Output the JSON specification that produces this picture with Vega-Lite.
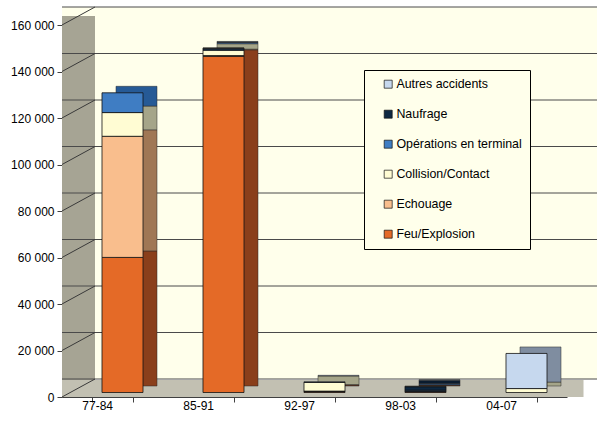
{
  "$schema": "https://vega.github.io/schema/vega-lite/v6.json",
  "width": 505,
  "height": 372,
  "autosize": {"type": "none"},
  "padding": {"left": 62, "top": 25, "right": 30, "bottom": 26},
  "background": "white",
  "config": {"view": {"stroke": null}, "font": "Liberation Sans"},
  "datasets": {
    "bars": [
      {"period": "77-84", "type": "Feu/Explosion", "rank": 1, "value": 58100},
      {"period": "77-84", "type": "Echouage", "rank": 2, "value": 52100},
      {"period": "77-84", "type": "Collision/Contact", "rank": 3, "value": 10200},
      {"period": "77-84", "type": "Opérations en terminal", "rank": 4, "value": 8500},
      {"period": "85-91", "type": "Feu/Explosion", "rank": 1, "value": 144600},
      {"period": "85-91", "type": "Echouage", "rank": 2, "value": 300},
      {"period": "85-91", "type": "Collision/Contact", "rank": 3, "value": 2300},
      {"period": "85-91", "type": "Opérations en terminal", "rank": 4, "value": 500},
      {"period": "85-91", "type": "Naufrage", "rank": 5, "value": 300},
      {"period": "85-91", "type": "Autres accidents", "rank": 6, "value": 200},
      {"period": "92-97", "type": "Feu/Explosion", "rank": 1, "value": 400},
      {"period": "92-97", "type": "Echouage", "rank": 2, "value": 200},
      {"period": "92-97", "type": "Collision/Contact", "rank": 3, "value": 3700},
      {"period": "92-97", "type": "Autres accidents", "rank": 6, "value": 300},
      {"period": "98-03", "type": "Feu/Explosion", "rank": 1, "value": 400},
      {"period": "98-03", "type": "Echouage", "rank": 2, "value": 100},
      {"period": "98-03", "type": "Opérations en terminal", "rank": 4, "value": 500},
      {"period": "98-03", "type": "Naufrage", "rank": 5, "value": 1500},
      {"period": "98-03", "type": "Autres accidents", "rank": 6, "value": 200},
      {"period": "04-07", "type": "Collision/Contact", "rank": 3, "value": 1700},
      {"period": "04-07", "type": "Autres accidents", "rank": 6, "value": 15100}
    ],
    "grid": [
      {"v": 0}, {"v": 20000}, {"v": 40000}, {"v": 60000}, {"v": 80000},
      {"v": 100000}, {"v": 120000}, {"v": 140000}, {"v": 160000}
    ],
    "one": [{"k": "a"}]
  },
  "resolve": {"scale": {"color": "independent"}},
  "layer": [
    {
      "data": {"name": "one"},
      "mark": {"type": "rule", "stroke": "#FFFFEB", "strokeWidth": 372, "xOffset": 33, "yOffset": -18},
      "encoding": {
        "y": {"datum": 80000}
      }
    },
    {
      "data": {"name": "one"},
      "mark": {"type": "rule", "stroke": "#A6A494", "strokeWidth": 33, "xOffset": -13.5, "yOffset": -9},
      "encoding": {
        "x": {"datum": "77-84", "bandPosition": 0}
      }
    },
    {
      "data": {"name": "one"},
      "mark": {"type": "rule", "stroke": "#C2C0B2", "strokeWidth": 17, "xOffset": 16.5, "yOffset": -8.5},
      "encoding": {
        "y": {"datum": 0}
      }
    },
    {
      "data": {"name": "grid"},
      "mark": {"type": "rule", "stroke": "#4A4A4A", "strokeWidth": 1, "xOffset": 33, "yOffset": -18},
      "encoding": {
        "y": {"field": "v", "type": "quantitative"}
      }
    },
    {
      "data": {"name": "grid"},
      "mark": {"type": "rule", "stroke": "#3A3A3A", "strokeWidth": 1, "xOffset": -30, "x2Offset": -17.5, "y2Offset": -18},
      "encoding": {
        "x": {"datum": "77-84", "bandPosition": 0},
        "x2": {"datum": "77-84"},
        "y": {"field": "v", "type": "quantitative"},
        "y2": {"field": "v"}
      }
    },
    {
      "data": {"name": "bars"},
      "mark": {"type": "bar", "xOffset": 24, "yOffset": -11, "stroke": "#2A2A2A", "strokeWidth": 0.5},
      "encoding": {
        "x": {"field": "period", "type": "nominal", "sort": ["77-84", "85-91", "92-97", "98-03", "04-07"]},
        "y": {"field": "value", "type": "quantitative", "stack": "zero"},
        "order": {"field": "rank", "type": "quantitative", "sort": "ascending"},
        "color": {"field": "type", "type": "nominal",
          "scale": {"domain": ["Feu/Explosion", "Echouage", "Collision/Contact", "Opérations en terminal", "Naufrage", "Autres accidents"],
            "range": ["#8A3F1B", "#A07755", "#A5A589", "#265A96", "#0A1B2E", "#7F8DA0"]},
          "legend": null}
      }
    },
    {
      "data": {"name": "bars"},
      "mark": {"type": "bar", "xOffset": 10, "yOffset": -4.5, "stroke": "#111111", "strokeWidth": 0.8},
      "encoding": {
        "x": {"field": "period", "type": "nominal", "sort": ["77-84", "85-91", "92-97", "98-03", "04-07"],
          "scale": {"domain": ["77-84", "85-91", "92-97", "98-03", "04-07"], "paddingInner": 0.594, "paddingOuter": 0.297},
          "axis": {"title": null, "labelAngle": 0, "labelFont": "Liberation Sans", "labelFontSize": 12, "labelColor": "#000000",
            "domainColor": "#404040", "tickColor": "#404040", "tickSize": 5, "tickBand": "extent", "labelPadding": 3}},
        "y": {"field": "value", "type": "quantitative", "stack": "zero",
          "scale": {"domain": [0, 160000], "nice": false},
          "axis": {"title": null, "values": [0, 20000, 40000, 60000, 80000, 100000, 120000, 140000, 160000],
            "labelExpr": "replace(format(datum.value, ',d'), ',', ' ')", "labelFont": "Liberation Sans", "labelFontSize": 12, "labelColor": "#000000",
            "domainColor": "#404040", "tickColor": "#404040", "tickSize": 5, "labelPadding": 3, "grid": false}},
        "order": {"field": "rank", "type": "quantitative", "sort": "ascending"},
        "color": {"field": "type", "type": "nominal",
          "scale": {"domain": ["Feu/Explosion", "Echouage", "Collision/Contact", "Opérations en terminal", "Naufrage", "Autres accidents"],
            "range": ["#E46A27", "#F9BE8D", "#FFFCD3", "#3F7DC3", "#0E2841", "#C6D8EE"]},
          "legend": {"title": null, "orient": "none", "legendX": 302, "legendY": 45,
            "values": ["Autres accidents", "Naufrage", "Opérations en terminal", "Collision/Contact", "Echouage", "Feu/Explosion"],
            "symbolType": "square", "symbolSize": 64, "symbolStrokeColor": "#111111", "symbolStrokeWidth": 0.7, "symbolOffset": 10,
            "labelFont": "Liberation Sans", "labelFontSize": 12.4, "labelColor": "#000000", "labelOffset": 2,
            "rowPadding": 17, "padding": 8, "fillColor": "#FFFFEB", "strokeColor": "#000000", "cornerRadius": 0}}
      }
    }
  ]
}
